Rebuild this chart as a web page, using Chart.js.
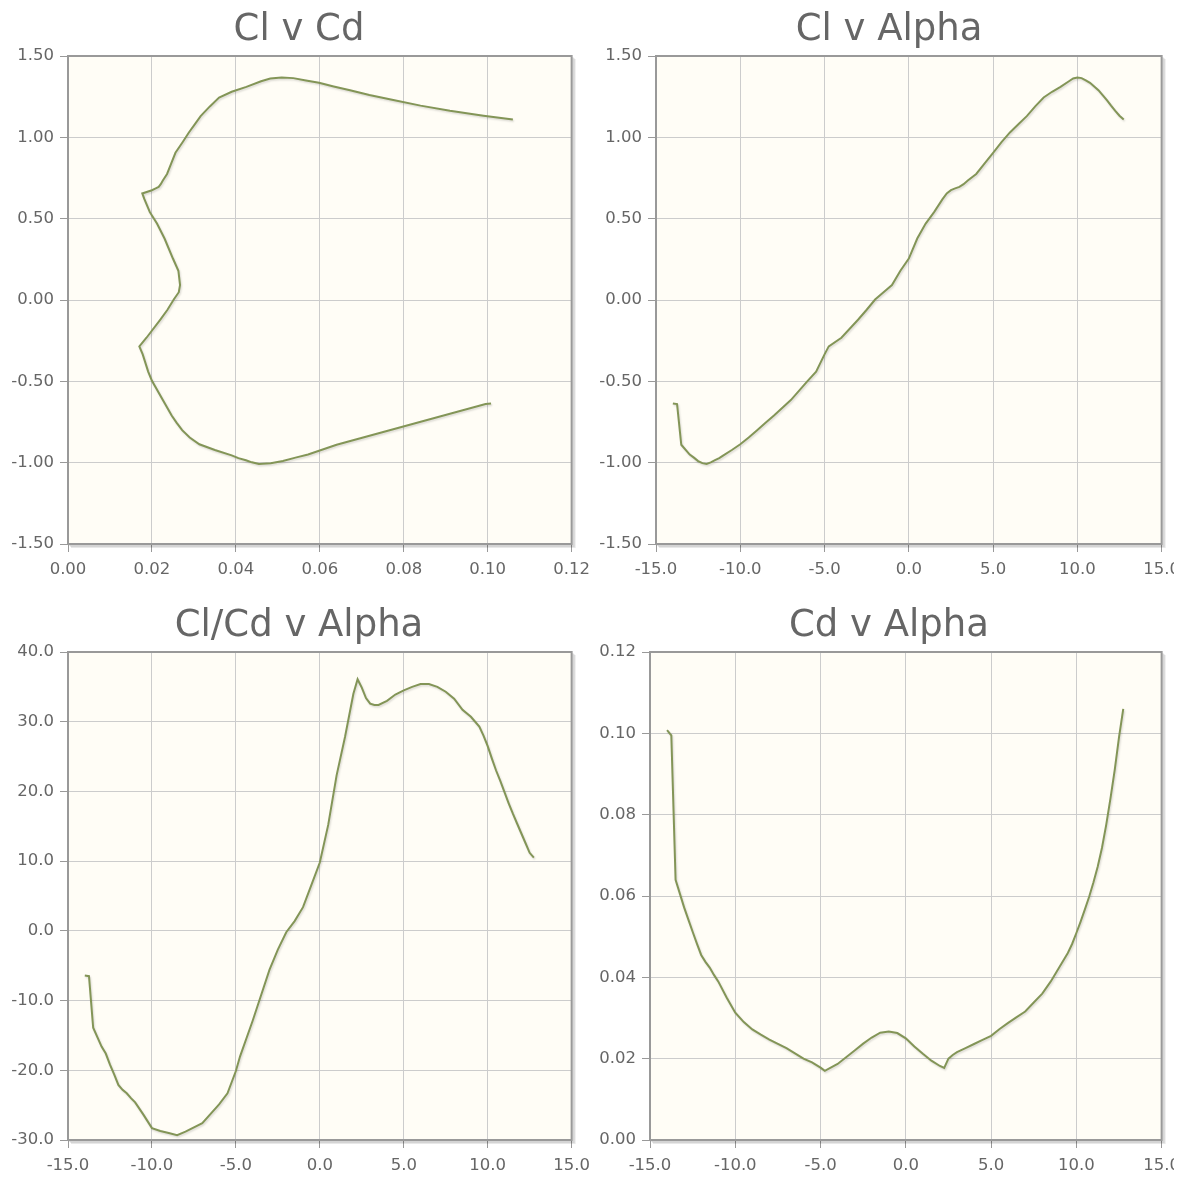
<!DOCTYPE html>
<html>
<head>
<meta charset="utf-8">
<title>Airfoil polars</title>
<script src="https://cdn.jsdelivr.net/npm/chart.js@4.4.1/dist/chart.umd.min.js"></script>
<style>
  html, body { margin: 0; padding: 0; background: #fff; overflow: hidden; }
  #wrap { position: relative; width: 1174px; height: 1179px; overflow: hidden; }
  #wrap canvas { position: absolute; }
</style>
</head>
<body>
<div id="wrap">
  <canvas id="clcdPolar" width="598" height="596" style="left:0;top:0"></canvas>
  <canvas id="clAlpha" width="598" height="596" style="left:590px;top:0"></canvas>
  <canvas id="ratioAlpha" width="598" height="596" style="left:0;top:596px"></canvas>
  <canvas id="cdAlpha" width="598" height="596" style="left:590px;top:596px"></canvas>
</div>
<script>
// angle of attack (deg)
const alpha = [-14.0, -13.75, -13.5, -13.0, -12.75, -12.5, -12.25, -12.0, -11.75, -11.5,
  -11.25, -11.0, -10.5, -10.0, -9.5, -9.0, -8.5, -8.0, -7.0, -6.0,
  -5.5, -5.0, -4.75, -4.0, -3.0, -2.5, -2.0, -1.5, -1.0, -0.5,
  0.0, 0.5, 1.0, 1.5, 2.0, 2.25, 2.5, 2.75, 3.0, 3.25,
  3.5, 4.0, 4.5, 5.0, 5.5, 6.0, 6.5, 7.0, 7.5, 8.0,
  8.5, 9.0, 9.5, 9.75, 10.0, 10.25, 10.5, 10.75, 11.0, 11.25,
  11.5, 11.75, 12.0, 12.25, 12.5, 12.75];

const cl = [-0.636, -0.640, -0.890, -0.950, -0.969, -0.990, -1.003, -1.008, -0.998, -0.985,
  -0.972, -0.955, -0.922, -0.887, -0.845, -0.800, -0.755, -0.710, -0.615, -0.497,
  -0.440, -0.334, -0.285, -0.232, -0.120, -0.060, 0.003, 0.048, 0.092, 0.180,
  0.255, 0.378, 0.470, 0.540, 0.620, 0.655, 0.675, 0.686, 0.695, 0.712,
  0.735, 0.775, 0.840, 0.905, 0.970, 1.030, 1.080, 1.130, 1.190, 1.245,
  1.280, 1.310, 1.345, 1.362, 1.368, 1.364, 1.350, 1.335, 1.313, 1.290,
  1.260, 1.229, 1.195, 1.163, 1.133, 1.110];

const cd = [0.1008, 0.0995, 0.0640, 0.0572, 0.0542, 0.0512, 0.0483, 0.0455, 0.0438, 0.0424,
  0.0406, 0.0390, 0.0350, 0.0313, 0.0290, 0.0272, 0.0259, 0.0247, 0.0226, 0.0200,
  0.0191, 0.0178, 0.0170, 0.0187, 0.0220, 0.0237, 0.0252, 0.0264, 0.0267, 0.0263,
  0.0250, 0.0230, 0.0212, 0.0195, 0.0182, 0.0177, 0.0200, 0.0209, 0.0216, 0.0221,
  0.0226, 0.0236, 0.0246, 0.0256, 0.0273, 0.0288, 0.0302, 0.0316, 0.0338, 0.0360,
  0.0390, 0.0425, 0.0460, 0.0482, 0.0509, 0.0537, 0.0567, 0.0598, 0.0633, 0.0672,
  0.0718, 0.0775, 0.0840, 0.0910, 0.0990, 0.1060];

const clOverCd = [-6.4, -6.5, -13.9, -16.6, -17.6, -19.2, -20.6, -22.1, -22.8, -23.3,
  -24.0, -24.6, -26.4, -28.3, -28.7, -29.0, -29.3, -28.8, -27.6, -24.9,
  -23.3, -20.1, -18.0, -12.9, -5.6, -2.7, -0.2, 1.4, 3.4, 6.6,
  9.8, 15.2, 22.3, 27.8, 34.0, 36.1, 34.9, 33.4, 32.6, 32.4,
  32.4, 33.0, 33.9, 34.5, 35.0, 35.4, 35.4, 35.0, 34.3, 33.3,
  31.7, 30.7, 29.3, 28.0, 26.5, 24.7, 23.0, 21.5, 19.9, 18.3,
  16.8, 15.4, 14.0, 12.6, 11.2, 10.5];

const FONT = "'DejaVu Sans', Verdana, sans-serif";
const LINE_COLOR = "#839557";

// jqplot-like plot box: cream background, grey frame with a drop shadow
const plotFrame = {
  id: "plotFrame",
  beforeDraw(chart) {
    const { ctx, chartArea: a } = chart;
    ctx.save();
    ctx.fillStyle = "#fffdf6";
    ctx.fillRect(a.left, a.top, a.right - a.left, a.bottom - a.top);
    ctx.restore();
  },
  beforeDatasetsDraw(chart) {
    const ctx = chart.ctx;
    ctx.save();
    ctx.shadowColor = "rgba(0,0,0,0.15)";
    ctx.shadowOffsetX = 1;
    ctx.shadowOffsetY = 1.5;
    ctx.shadowBlur = 2;
  },
  afterDatasetsDraw(chart) {
    const { ctx, chartArea: a } = chart;
    ctx.restore();
    ctx.save();
    ctx.lineWidth = 2;
    for (let i = 1; i <= 3; i++) {
      ctx.strokeStyle = "rgba(0,0,0,0.09)";
      ctx.beginPath();
      ctx.moveTo(a.left + i, a.bottom + i);
      ctx.lineTo(a.right + i, a.bottom + i);
      ctx.lineTo(a.right + i, a.top + i);
      ctx.stroke();
    }
    ctx.strokeStyle = "#999999";
    ctx.strokeRect(a.left, a.top, a.right - a.left, a.bottom - a.top);
    ctx.restore();
  }
};

function axis(min, max, step, digits, isX, size) {
  return {
    type: "linear",
    min: min,
    max: max,
    ticks: {
      stepSize: step,
      color: "#666666",
      font: { family: FONT, size: 16.5 },
      padding: isX ? 8 : 6,
      maxRotation: 0,
      autoSkip: false,
      callback: (v) => Number(v).toFixed(digits),
    },
    grid: { color: "#cccccc", lineWidth: 1, tickColor: "#999999", tickLength: 8 },
    border: { display: false },
    afterFit: (s) => {
      if (isX) s.height = size;
      else s.width = size;
    },
  };
}

function makeChart(id, title, points, xAxis, yAxis) {
  return new Chart(document.getElementById(id), {
    type: "scatter",
    data: {
      datasets: [
        {
          data: points,
          showLine: true,
          borderColor: LINE_COLOR,
          borderWidth: 2,
          pointRadius: 0,
          tension: 0,
          fill: false,
        },
      ],
    },
    options: {
      responsive: false,
      animation: false,
      layout: { padding: 0 },
      plugins: {
        legend: { display: false },
        tooltip: { enabled: false },
        title: {
          display: true,
          text: title,
          color: "#666666",
          font: { family: FONT, size: 37, weight: "normal", lineHeight: 1 },
          padding: { top: 12, bottom: 7 },
        },
      },
      scales: { x: xAxis, y: yAxis },
    },
    plugins: [plotFrame],
  });
}

const polarPts = alpha.map((a, i) => ({ x: cd[i], y: cl[i] }));
const clPts = alpha.map((a, i) => ({ x: a, y: cl[i] }));
const ratioPts = alpha.map((a, i) => ({ x: a, y: clOverCd[i] }));
const cdPts = alpha.map((a, i) => ({ x: a, y: cd[i] }));

makeChart("clcdPolar", "Cl v Cd", polarPts,
  axis(0, 0.12, 0.02, 2, true, 52), axis(-1.5, 1.5, 0.5, 2, false, 68));
makeChart("clAlpha", "Cl v Alpha", clPts,
  axis(-15, 15, 5, 1, true, 52), axis(-1.5, 1.5, 0.5, 2, false, 66));
makeChart("ratioAlpha", "Cl/Cd v Alpha", ratioPts,
  axis(-15, 15, 5, 1, true, 52), axis(-30, 40, 10, 1, false, 68));
makeChart("cdAlpha", "Cd v Alpha", cdPts,
  axis(-15, 15, 5, 1, true, 52), axis(0, 0.12, 0.02, 2, false, 60));
</script>
</body>
</html>
